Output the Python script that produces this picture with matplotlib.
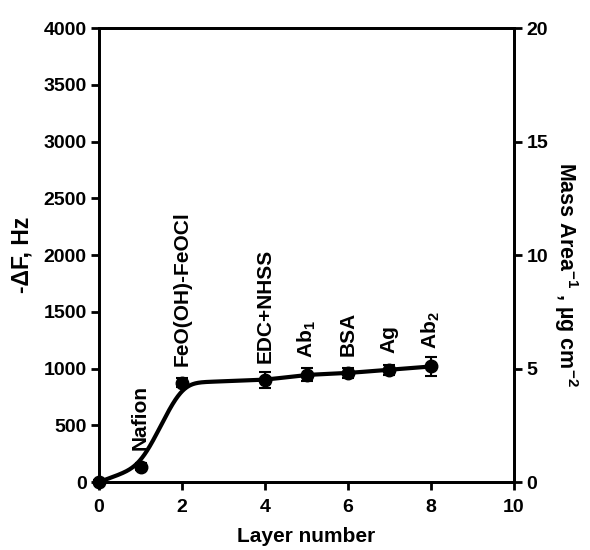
import numpy as np
import matplotlib
matplotlib.use("Agg")
import matplotlib.pyplot as plt

plt.rcParams['font.family'] = ['Liberation Sans', 'DejaVu Sans']
plt.rcParams['font.weight'] = 'bold'
plt.rcParams['mathtext.fontset'] = 'custom'
plt.rcParams['mathtext.rm'] = 'Liberation Sans:bold'
plt.rcParams['mathtext.bf'] = 'Liberation Sans:bold'
plt.rcParams['mathtext.default'] = 'bf'

layers = [0, 1, 2, 4, 5, 6, 7, 8]
delta_f = [0, 135, 875, 900, 945, 960, 990, 1018]
errors = [15, 30, 40, 68, 58, 42, 45, 80]
layer_labels = ["", "Nafion", "FeO(OH)-FeOCl", "EDC+NHSS", "Ab$_1$", "BSA", "Ag", "Ab$_2$"]
x_ticks = [0, 2, 4, 6, 8, 10]
y_ticks = [0, 500, 1000, 1500, 2000, 2500, 3000, 3500, 4000]
y2_ticks = [0, 5, 10, 15, 20]

fig = plt.figure(figsize=(5.9, 5.5), dpi=100)
ax = fig.add_axes([0.168, 0.1236, 0.703, 0.8254])

# smoothed curve derived from data (gaussian smoothing of linear interpolation)
xd = np.array(layers, float)
yd = np.array(delta_f, float)
grid = np.linspace(-3, 11, 1401)
lin = np.interp(grid, xd, yd)
s0 = (yd[1] - yd[0]) / (xd[1] - xd[0])
s1 = (yd[-1] - yd[-2]) / (xd[-1] - xd[-2])
lin[grid < 0] = yd[0] + s0 * grid[grid < 0]
lin[grid > 8] = yd[-1] + s1 * (grid[grid > 8] - 8)
dx = grid[1] - grid[0]
sig = 0.26
k = np.arange(-int(4 * sig / dx), int(4 * sig / dx) + 1) * dx
kern = np.exp(-0.5 * (k / sig) ** 2)
kern /= kern.sum()
sm = np.convolve(lin, kern, mode='same')
mask = (grid >= 0) & (grid <= 8)
ax.plot(grid[mask], sm[mask], color='black', lw=3, zorder=3)

ax.errorbar(layers, delta_f, yerr=errors, fmt='o', color='black', ms=9,
            capsize=4, elinewidth=1.5, capthick=1.5, zorder=4, clip_on=False)

for x, y, lab in zip(layers, delta_f, layer_labels):
    if lab:
        ax.annotate(lab, (x, y), xytext=(0, 17), textcoords='offset pixels',
                    rotation=90, ha='center', va='bottom', fontsize=15,
                    fontweight='bold')

ax.set_xlim(0, 10)
ax.set_ylim(0, 4000)
ax.set_xticks(x_ticks)
ax.set_yticks(y_ticks)
ax.set_xlabel("Layer number", fontsize=15, fontweight='bold', labelpad=8)
ax.set_ylabel("-ΔF, Hz", fontsize=16.5, fontweight='bold', labelpad=7)

for sp in ax.spines.values():
    sp.set_linewidth(2)
ax.tick_params(direction='out', length=6, width=2, labelsize=14, pad=3)
ax.tick_params(axis='x', pad=6)
for lab in ax.get_xticklabels() + ax.get_yticklabels():
    lab.set_fontweight('bold')

ax2 = ax.twinx()
ax2.set_ylim(0, 20)
ax2.set_yticks(y2_ticks)
ax2.tick_params(direction='out', length=6, width=2, labelsize=14, pad=3)
for lab in ax2.get_yticklabels():
    lab.set_fontweight('bold')
ax2.set_ylabel("Mass Area$^{-1}$ , µg cm$^{-2}$", fontsize=15.5,
               fontweight='bold', rotation=270, labelpad=22)
ax2.yaxis.set_label_coords(1.158, 0.458)
for sp in ax2.spines.values():
    sp.set_linewidth(2)

fig.savefig("out.png", dpi=100)
